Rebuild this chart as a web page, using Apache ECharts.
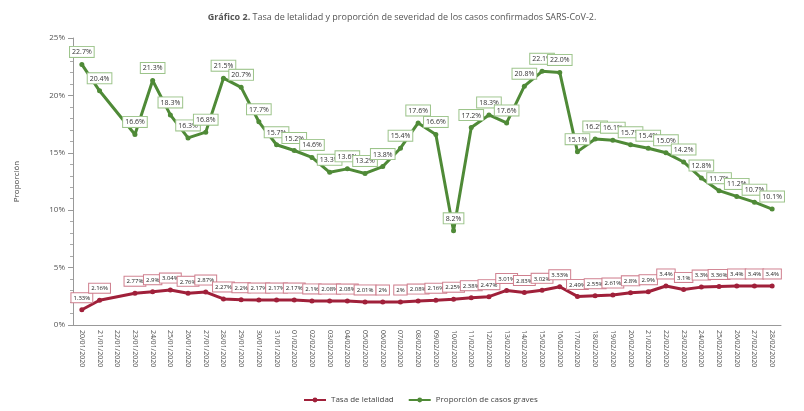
<!DOCTYPE html>
<html>
<head>
<meta charset="utf-8">
<script src="https://cdn.jsdelivr.net/npm/echarts@6/dist/echarts.min.js"></script>
<style>
  html, body { margin: 0; padding: 0; background: #fff; }
  #chart { width: 804px; height: 411px; }
</style>
</head>
<body>
<div id="chart"></div>
<script>
// fechas del eje x
const fechas = [
  '20/01/2020', '21/01/2020', '22/01/2020', '23/01/2020', '24/01/2020', '25/01/2020',
  '26/01/2020', '27/01/2020', '28/01/2020', '29/01/2020', '30/01/2020', '31/01/2020',
  '01/02/2020', '02/02/2020', '03/02/2020', '04/02/2020', '05/02/2020', '06/02/2020',
  '07/02/2020', '08/02/2020', '09/02/2020', '10/02/2020', '11/02/2020', '12/02/2020',
  '13/02/2020', '14/02/2020', '15/02/2020', '16/02/2020', '17/02/2020', '18/02/2020',
  '19/02/2020', '20/02/2020', '21/02/2020', '22/02/2020', '23/02/2020', '24/02/2020',
  '25/02/2020', '26/02/2020', '27/02/2020', '28/02/2020'
];

// Tasa de letalidad (%)
const letalidad = [
  1.33, 2.16, null, 2.77, 2.90, 3.04, 2.76, 2.87, 2.27, 2.20, 2.17, 2.17,
  2.17, 2.10, 2.08, 2.08, 2.01, 2.00, 2.00, 2.08, 2.16, 2.25, 2.38, 2.47,
  3.01, 2.83, 3.02, 3.33, 2.49, 2.55, 2.61, 2.80, 2.90, 3.40, 3.10, 3.30,
  3.36, 3.40, 3.40, 3.40
];

// Proporción de casos graves (%)
const graves = [
  22.7, 20.4, null, 16.6, 21.3, 18.3, 16.3, 16.8, 21.5, 20.7, 17.7, 15.7,
  15.2, 14.6, 13.3, 13.6, 13.2, 13.8, 15.4, 17.6, 16.6, 8.2, 17.2, 18.3,
  17.6, 20.8, 22.1, 22.0, 15.1, 16.2, 16.1, 15.7, 15.4, 15.0, 14.2, 12.8,
  11.7, 11.2, 10.7, 10.1
];

const yTicks = [0, 5, 10, 15, 20, 25];

const rojo = '#a0203a';
const verde = '#4f8a37';
const fuente = '"Open Sans", "Liberation Sans", sans-serif';

const chart = echarts.init(document.getElementById('chart'));

chart.setOption({
  animation: false,
  textStyle: { fontFamily: fuente },
  title: {
    text: '{b|Gráfico 2.} Tasa de letalidad y proporción de severidad de los casos confirmados SARS-CoV-2.',
    left: 'center',
    top: 8,
    textStyle: {
      fontSize: 9,
      fontWeight: 'normal',
      color: '#555',
      fontFamily: fuente,
      rich: { b: { fontSize: 9, fontWeight: 'bold', color: '#555', fontFamily: fuente } }
    }
  },
  legend: {
    bottom: 2,
    left: 298,
    itemWidth: 22,
    itemHeight: 6,
    itemGap: 14,
    textStyle: { fontSize: 8, color: '#444' },
    data: ['Tasa de letalidad', 'Proporción de casos graves']
  },
  grid: { left: 73, right: 23, top: 38, bottom: 86 },
  xAxis: {
    type: 'category',
    data: fechas,
    axisLine: { lineStyle: { color: '#999' } },
    axisTick: { lineStyle: { color: '#999' } },
    axisLabel: {
      rotate: -90,
      interval: 0,
      fontSize: 7,
      color: '#555',
      margin: 5
    }
  },
  yAxis: {
    type: 'value',
    name: 'Proporción',
    nameLocation: 'middle',
    nameGap: 52,
    nameTextStyle: { fontSize: 8, color: '#444' },
    min: yTicks[0],
    max: yTicks[yTicks.length - 1],
    interval: 5,
    axisLine: { show: true, lineStyle: { color: '#999' } },
    axisTick: { show: true, lineStyle: { color: '#999' } },
    minorTick: { show: true, splitNumber: 5, length: 3, lineStyle: { color: '#aaa' } },
    splitLine: { show: false },
    axisLabel: { fontSize: 8, color: '#555', formatter: '{value}%' }
  },
  series: [
    {
      name: 'Tasa de letalidad',
      type: 'line',
      data: letalidad,
      connectNulls: true,
      symbol: 'circle',
      symbolSize: 5,
      color: rojo,
      lineStyle: { width: 3, color: rojo },
      itemStyle: { color: rojo },
      label: {
        show: true,
        position: 'top',
        distance: 5,
        fontSize: 6,
        color: '#222',
        backgroundColor: '#fff',
        borderColor: '#cf7f8e',
        borderWidth: 1,
        padding: [2, 2, 1, 2],
        formatter: p => p.value + '%'
      }
    },
    {
      name: 'Proporción de casos graves',
      type: 'line',
      data: graves,
      connectNulls: true,
      symbol: 'circle',
      symbolSize: 5,
      color: verde,
      lineStyle: { width: 3, color: verde },
      itemStyle: { color: verde },
      label: {
        show: true,
        position: 'top',
        distance: 5,
        fontSize: 7,
        color: '#333',
        backgroundColor: '#fff',
        borderColor: '#9cc48a',
        borderWidth: 1,
        padding: [2, 2, 1, 2],
        formatter: p => p.value.toFixed(1) + '%'
      }
    }
  ]
});
</script>
</body>
</html>
